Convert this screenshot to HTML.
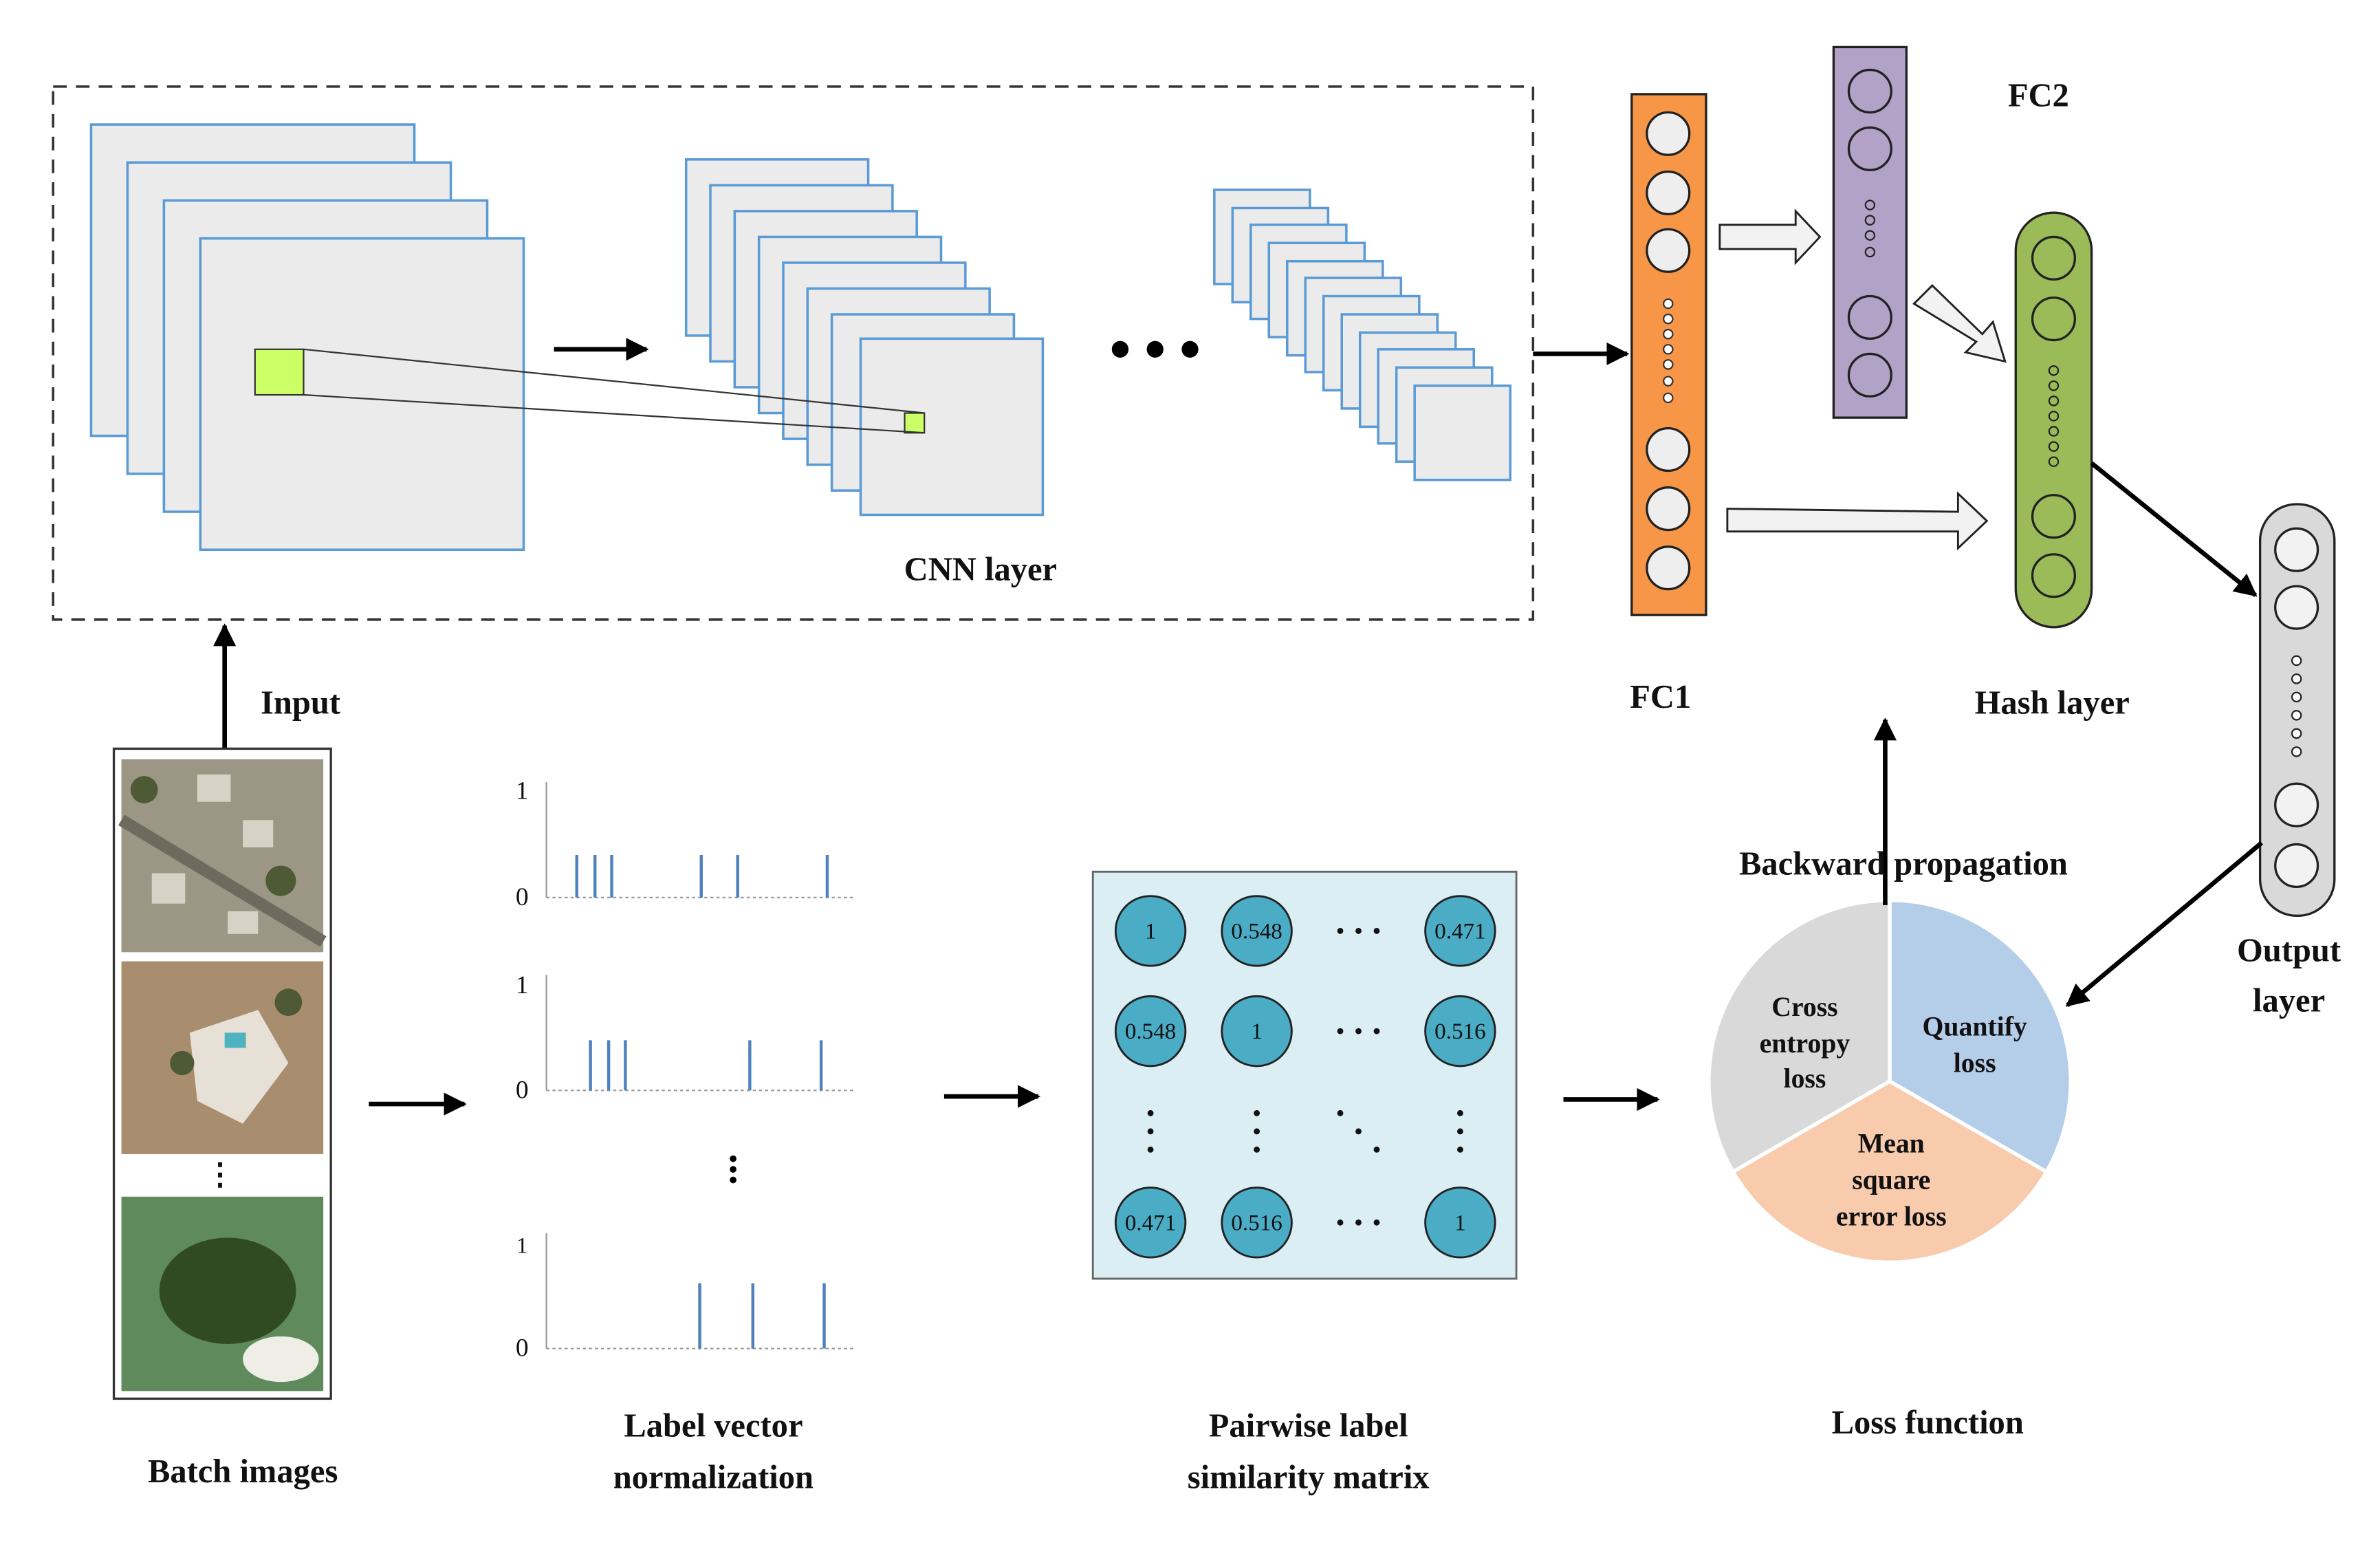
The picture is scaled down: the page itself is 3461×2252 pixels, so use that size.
<!DOCTYPE html>
<html><head><meta charset="utf-8"><style>html,body{margin:0;padding:0;background:#fff}svg{display:block}text{font-family:"Liberation Serif",serif;font-weight:bold;fill:#111}</style></head><body>
<svg width="3461" height="2252" viewBox="0 0 1568 1020" preserveAspectRatio="none" xmlns="http://www.w3.org/2000/svg">
<defs>
<marker id="ah" viewBox="0 0 10 10" refX="9" refY="5" markerWidth="5" markerHeight="5" orient="auto"><path d="M0,0L10,5L0,10z" fill="#000"/></marker>
</defs>
<rect width="1568" height="1020" fill="#fff"/>
<rect x="35" y="57" width="975" height="351" fill="none" stroke="#333" stroke-width="1.6" stroke-dasharray="9,6"/>
<g fill="#ebebeb" stroke="#5b9bd5" stroke-width="1.6">
<rect x="60" y="82" width="213" height="205"/><rect x="84" y="107" width="213" height="205"/><rect x="108" y="132" width="213" height="205"/><rect x="132" y="157" width="213" height="205"/>
<rect x="452" y="105" width="120" height="116"/><rect x="468" y="122" width="120" height="116"/><rect x="484" y="139" width="120" height="116"/><rect x="500" y="156" width="120" height="116"/><rect x="516" y="173" width="120" height="116"/><rect x="532" y="190" width="120" height="116"/><rect x="548" y="207" width="120" height="116"/><rect x="567" y="223" width="120" height="116"/>
<rect x="800" y="125" width="63" height="62"/><rect x="812" y="137" width="63" height="62"/><rect x="824" y="148" width="63" height="62"/><rect x="836" y="160" width="63" height="62"/><rect x="848" y="172" width="63" height="62"/><rect x="860" y="183" width="63" height="62"/><rect x="872" y="195" width="63" height="62"/><rect x="884" y="207" width="63" height="62"/><rect x="896" y="219" width="63" height="62"/><rect x="908" y="230" width="63" height="62"/><rect x="920" y="242" width="63" height="62"/><rect x="932" y="254" width="63" height="62"/>
</g>
<rect x="168" y="230" width="32" height="30" fill="#ccff66" stroke="#333"/>
<rect x="596" y="272" width="13" height="13" fill="#ccff66" stroke="#333"/>
<line x1="200" y1="230" x2="609" y2="272" stroke="#333" stroke-width="1"/>
<line x1="200" y1="260" x2="609" y2="285" stroke="#333" stroke-width="1"/>
<line x1="365" y1="230" x2="426" y2="230" stroke="#000" stroke-width="3" marker-end="url(#ah)"/>
<circle cx="738" cy="230" r="5.5"/><circle cx="761" cy="230" r="5.5"/><circle cx="784" cy="230" r="5.5"/>
<text x="646" y="382" font-size="22" text-anchor="middle">CNN layer</text>
<line x1="1010" y1="233" x2="1072" y2="233" stroke="#000" stroke-width="3" marker-end="url(#ah)"/>
<!-- FC1 -->
<rect x="1075" y="62" width="49" height="343" fill="#f79646" stroke="#222" stroke-width="1.5"/>
<g fill="#eee" stroke="#222" stroke-width="1.5"><circle cx="1099" cy="88" r="14"/><circle cx="1099" cy="127" r="14"/><circle cx="1099" cy="165" r="14"/><circle cx="1099" cy="296" r="14"/><circle cx="1099" cy="335" r="14"/><circle cx="1099" cy="374" r="14"/></g>
<g fill="#fff" stroke="#333" stroke-width="1"><circle cx="1099" cy="200" r="3"/><circle cx="1099" cy="210" r="3"/><circle cx="1099" cy="220" r="3"/><circle cx="1099" cy="230" r="3"/><circle cx="1099" cy="240" r="3"/><circle cx="1099" cy="251" r="3"/><circle cx="1099" cy="262" r="3"/></g>
<!-- FC2 -->
<rect x="1208" y="31" width="48" height="244" fill="#b3a2c7" stroke="#222" stroke-width="1.5"/>
<g fill="none" stroke="#222" stroke-width="1.5"><circle cx="1232" cy="60" r="14"/><circle cx="1232" cy="98" r="14"/><circle cx="1232" cy="209" r="14"/><circle cx="1232" cy="247" r="14"/></g>
<g fill="none" stroke="#222" stroke-width="1"><circle cx="1232" cy="135" r="3"/><circle cx="1232" cy="145" r="3"/><circle cx="1232" cy="155" r="3"/><circle cx="1232" cy="166" r="3"/></g>
<text x="1343" y="70" font-size="22" text-anchor="middle">FC2</text>
<!-- Hash -->
<rect x="1328" y="140" width="50" height="273" rx="25" fill="#9bbb59" stroke="#222" stroke-width="1.5"/>
<g fill="none" stroke="#222" stroke-width="1.5"><circle cx="1353" cy="170" r="14"/><circle cx="1353" cy="210" r="14"/><circle cx="1353" cy="340" r="14"/><circle cx="1353" cy="379" r="14"/></g>
<g fill="none" stroke="#222" stroke-width="1"><circle cx="1353" cy="244" r="3"/><circle cx="1353" cy="254" r="3"/><circle cx="1353" cy="264" r="3"/><circle cx="1353" cy="274" r="3"/><circle cx="1353" cy="284" r="3"/><circle cx="1353" cy="294" r="3"/><circle cx="1353" cy="304" r="3"/></g>
<!-- hollow arrows -->
<g fill="#f2f2f2" stroke="#222" stroke-width="1.3">
<path d="M1133,148 L1183,148 L1183,139 L1199,156 L1183,173 L1183,164 L1133,164 Z"/>
<path d="M1138,335 L1290,337 L1290,325 L1309,343 L1290,361 L1290,350 L1138,350 Z"/>
<path d="M1261,200 L1273,188 L1306,220 L1313,212 L1321,238 L1295,232 L1302,225 Z"/>
</g>
<!-- Output -->
<rect x="1489" y="332" width="49" height="271" rx="24" fill="#d9d9d9" stroke="#222" stroke-width="1.5"/>
<g fill="#f2f2f2" stroke="#222" stroke-width="1.5"><circle cx="1513" cy="362" r="14"/><circle cx="1513" cy="400" r="14"/><circle cx="1513" cy="530" r="14"/><circle cx="1513" cy="570" r="14"/></g>
<g fill="#fff" stroke="#222" stroke-width="1"><circle cx="1513" cy="435" r="3"/><circle cx="1513" cy="447" r="3"/><circle cx="1513" cy="459" r="3"/><circle cx="1513" cy="471" r="3"/><circle cx="1513" cy="483" r="3"/><circle cx="1513" cy="495" r="3"/></g>
<line x1="1378" y1="305" x2="1486" y2="392" stroke="#000" stroke-width="3" marker-end="url(#ah)"/>
<text x="1094" y="466" font-size="22" text-anchor="middle">FC1</text>
<text x="1352" y="470" font-size="22" text-anchor="middle">Hash layer</text>
<text x="1508" y="633" font-size="22" text-anchor="middle">Output</text>
<text x="1508" y="666" font-size="22" text-anchor="middle">layer</text>
<!-- Input -->
<line x1="148" y1="494" x2="148" y2="412" stroke="#000" stroke-width="3" marker-end="url(#ah)"/>
<text x="198" y="470" font-size="22" text-anchor="middle">Input</text>
<rect x="75" y="493" width="143" height="428" fill="#fff" stroke="#333" stroke-width="1.5"/>
<rect x="80" y="500" width="133" height="127" fill="#9c9685"/>
<rect x="80" y="500" width="133" height="127" fill="none"/>
<path d="M80,540 L213,620" stroke="#6f6a5e" stroke-width="8"/>
<rect x="130" y="510" width="22" height="18" fill="#d8d2c6"/><rect x="160" y="540" width="20" height="18" fill="#d8d2c6"/><rect x="100" y="575" width="22" height="20" fill="#d8d2c6"/><rect x="150" y="600" width="20" height="15" fill="#d8d2c6"/>
<circle cx="185" cy="580" r="10" fill="#4e5a36"/><circle cx="95" cy="520" r="9" fill="#4e5a36"/>
<rect x="80" y="633" width="133" height="127" fill="#a88e6e"/>
<path d="M125,680 L170,665 L190,700 L160,740 L130,725 Z" fill="#e6e0d6"/>
<circle cx="120" cy="700" r="8" fill="#4e5a36"/><circle cx="190" cy="660" r="9" fill="#4e5a36"/><rect x="148" y="680" width="14" height="10" fill="#4fb2c0"/>
<text x="145" y="780" font-size="20" text-anchor="middle">⋮</text>
<rect x="80" y="788" width="133" height="128" fill="#5f8a5b"/>
<ellipse cx="150" cy="850" rx="45" ry="35" fill="#304a22"/>
<ellipse cx="185" cy="895" rx="25" ry="15" fill="#eeeee6"/>
<text x="160" y="976" font-size="22" text-anchor="middle">Batch images</text>
<line x1="243" y1="727" x2="306" y2="727" stroke="#000" stroke-width="3" marker-end="url(#ah)"/>
<!-- charts -->
<g font-size="16" font-weight="normal">
<text x="344" y="526" font-size="17" text-anchor="middle" style="font-weight:normal">1</text>
<text x="344" y="596" font-size="17" text-anchor="middle" style="font-weight:normal">0</text>
<text x="344" y="654" font-size="17" text-anchor="middle" style="font-weight:normal">1</text>
<text x="344" y="723" font-size="17" text-anchor="middle" style="font-weight:normal">0</text>
<text x="344" y="825" font-size="15" text-anchor="middle" style="font-weight:normal">1</text>
<text x="344" y="893" font-size="17" text-anchor="middle" style="font-weight:normal">0</text>
</g>
<g stroke="#999" stroke-width="1">
<line x1="360" y1="515" x2="360" y2="591"/><line x1="360" y1="591" x2="562" y2="591" stroke-dasharray="2,2"/>
<line x1="360" y1="642" x2="360" y2="718"/><line x1="360" y1="718" x2="562" y2="718" stroke-dasharray="2,2"/>
<line x1="360" y1="812" x2="360" y2="888"/><line x1="360" y1="888" x2="562" y2="888" stroke-dasharray="2,2"/>
</g>
<g stroke="#4f81bd" stroke-width="2">
<line x1="380" y1="563" x2="380" y2="591"/><line x1="392" y1="563" x2="392" y2="591"/><line x1="403" y1="563" x2="403" y2="591"/><line x1="462" y1="563" x2="462" y2="591"/><line x1="486" y1="563" x2="486" y2="591"/><line x1="545" y1="563" x2="545" y2="591"/>
<line x1="389" y1="685" x2="389" y2="718"/><line x1="401" y1="685" x2="401" y2="718"/><line x1="412" y1="685" x2="412" y2="718"/><line x1="494" y1="685" x2="494" y2="718"/><line x1="541" y1="685" x2="541" y2="718"/>
<line x1="461" y1="845" x2="461" y2="888"/><line x1="496" y1="845" x2="496" y2="888"/><line x1="543" y1="845" x2="543" y2="888"/>
</g>
<circle cx="483" cy="763" r="2.2"/><circle cx="483" cy="770" r="2.2"/><circle cx="483" cy="777" r="2.2"/>
<text x="470" y="946" font-size="22" text-anchor="middle">Label vector</text>
<text x="470" y="980" font-size="22" text-anchor="middle">normalization</text>
<line x1="622" y1="722" x2="684" y2="722" stroke="#000" stroke-width="3" marker-end="url(#ah)"/>
<!-- matrix -->
<rect x="720" y="574" width="279" height="268" fill="#dbeef4" stroke="#666" stroke-width="1.3"/>
<g fill="#4bacc6" stroke="#222" stroke-width="1.3">
<circle cx="758" cy="613" r="23"/><circle cx="828" cy="613" r="23"/><circle cx="962" cy="613" r="23"/>
<circle cx="758" cy="679" r="23"/><circle cx="828" cy="679" r="23"/><circle cx="962" cy="679" r="23"/>
<circle cx="758" cy="805" r="23"/><circle cx="828" cy="805" r="23"/><circle cx="962" cy="805" r="23"/>
</g>
<g font-size="15" text-anchor="middle" style="font-weight:normal">
<text x="758" y="618" style="font-weight:normal">1</text><text x="828" y="618" style="font-weight:normal">0.548</text><text x="962" y="618" style="font-weight:normal">0.471</text>
<text x="758" y="684" style="font-weight:normal">0.548</text><text x="828" y="684" style="font-weight:normal">1</text><text x="962" y="684" style="font-weight:normal">0.516</text>
<text x="758" y="810" style="font-weight:normal">0.471</text><text x="828" y="810" style="font-weight:normal">0.516</text><text x="962" y="810" style="font-weight:normal">1</text>
</g>
<g fill="#111">
<circle cx="883" cy="613" r="2"/><circle cx="895" cy="613" r="2"/><circle cx="907" cy="613" r="2"/>
<circle cx="883" cy="679" r="2"/><circle cx="895" cy="679" r="2"/><circle cx="907" cy="679" r="2"/>
<circle cx="883" cy="805" r="2"/><circle cx="895" cy="805" r="2"/><circle cx="907" cy="805" r="2"/>
<circle cx="758" cy="733" r="2"/><circle cx="758" cy="745" r="2"/><circle cx="758" cy="757" r="2"/>
<circle cx="828" cy="733" r="2"/><circle cx="828" cy="745" r="2"/><circle cx="828" cy="757" r="2"/>
<circle cx="962" cy="733" r="2"/><circle cx="962" cy="745" r="2"/><circle cx="962" cy="757" r="2"/>
<circle cx="883" cy="733" r="2"/><circle cx="895" cy="745" r="2"/><circle cx="907" cy="757" r="2"/>
</g>
<text x="862" y="946" font-size="22" text-anchor="middle">Pairwise label</text>
<text x="862" y="980" font-size="22" text-anchor="middle">similarity matrix</text>
<line x1="1030" y1="724" x2="1092" y2="724" stroke="#000" stroke-width="3" marker-end="url(#ah)"/>
<!-- pie: center 1245,712 r118 -->
<path d="M1245,712 L1245,594 A118,118 0 0 1 1347.2,771 Z" fill="#b4cde9"/>
<path d="M1245,712 L1347.2,771 A118,118 0 0 1 1142.8,771 Z" fill="#f8cbad"/>
<path d="M1245,712 L1142.8,771 A118,118 0 0 1 1245,594 Z" fill="#d9d9d9"/>
<g stroke="#fff" stroke-width="2.5"><line x1="1245" y1="712" x2="1245" y2="594"/><line x1="1245" y1="712" x2="1347.2" y2="771"/><line x1="1245" y1="712" x2="1142.8" y2="771"/></g>
<g font-size="18" text-anchor="middle" fill="#333">
<text x="1189" y="669">Cross</text><text x="1189" y="693">entropy</text><text x="1189" y="716">loss</text>
<text x="1301" y="682">Quantify</text><text x="1301" y="706">loss</text>
<text x="1246" y="759">Mean</text><text x="1246" y="783">square</text><text x="1246" y="807">error loss</text>
</g>
<line x1="1242" y1="596" x2="1242" y2="474" stroke="#000" stroke-width="3" marker-end="url(#ah)"/>
<text x="1254" y="576" font-size="22" text-anchor="middle">Backward propagation</text>
<line x1="1490" y1="555" x2="1362" y2="662" stroke="#000" stroke-width="3" marker-end="url(#ah)"/>
<text x="1270" y="944" font-size="22" text-anchor="middle">Loss function</text>
</svg>
</body></html>
